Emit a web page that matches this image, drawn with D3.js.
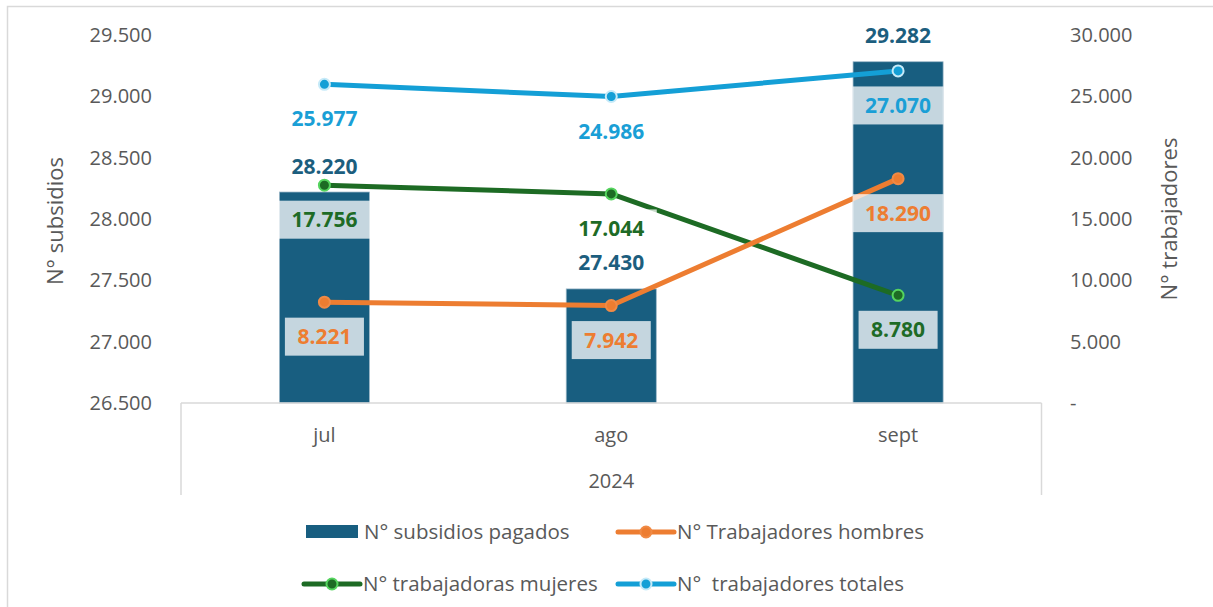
<!DOCTYPE html>
<html>
<head>
<meta charset="utf-8">
<script src="https://cdn.jsdelivr.net/npm/d3@7"></script>
<style>
  body { margin: 0; background: #fff; }
  svg text { font-family: "Open Sans", sans-serif; }
</style>
</head>
<body>
<svg id="chart" width="1213" height="607"></svg>
<script>
// data
const months = ["jul", "ago", "sept"];
const yearLabel = "2024";
const subsidios = [28220, 27430, 29282];
const hombres = [8221, 7942, 18290];
const mujeres = [17756, 17044, 8780];
const totales = [25977, 24986, 27070];
const leftTicks = [26500, 27000, 27500, 28000, 28500, 29000, 29500];
const rightTicks = [0, 5000, 10000, 15000, 20000, 25000, 30000];
const legendNames = ["N° subsidios pagados", "N° Trabajadores hombres", "N° trabajadoras mujeres", "N°  trabajadores totales"];

const barColor = "#185E80";
const orange = "#ED7D31";
const green = "#1D6B24";
const blue = "#149FD6";
const gray = "#595959";
const border = "#D9D9D9";

const loc = d3.formatLocale({ decimal: ",", thousands: ".", grouping: [3], currency: ["$", ""] });
const fmt = loc.format(",.0f");

const svg = d3.select("#chart");

// outer chart frame
svg.append("rect")
  .attr("x", 7.5).attr("y", 6.5)
  .attr("width", 1230).attr("height", 640)
  .attr("fill", "none").attr("stroke", border).attr("stroke-width", 1.5);

const plotLeft = 181, plotRight = 1041.5, plotTop = 35, plotBottom = 403;

const x = d3.scaleBand().domain(months).range([plotLeft, plotRight]).padding(0);
const yL = d3.scaleLinear().domain([26500, 29500]).range([plotBottom, plotTop]);
const yR = d3.scaleLinear().domain([0, 30000]).range([plotBottom, plotTop]);
const barW = x.bandwidth() * 0.314;
const cx = (m) => x(m) + x.bandwidth() / 2;

// left axis
const axL = svg.append("g")
  .attr("transform", `translate(${plotLeft},0)`)
  .call(d3.axisLeft(yL).tickValues(leftTicks).tickSize(0).tickPadding(29).tickFormat(fmt));
axL.select(".domain").remove();
axL.selectAll("text").style("font-size", "20px").attr("fill", gray);

// right axis
const axR = svg.append("g")
  .attr("transform", `translate(${plotRight},0)`)
  .call(d3.axisRight(yR).tickValues(rightTicks).tickSize(0).tickPadding(28.5)
    .tickFormat(d => d === 0 ? "-" : fmt(d)));
axR.select(".domain").remove();
axR.selectAll("text").style("font-size", "20px").attr("fill", gray);

// axis titles
svg.append("text")
  .attr("transform", `translate(63,${(plotTop + plotBottom) / 2 + 2}) rotate(-90)`)
  .attr("text-anchor", "middle")
  .style("font-size", "22px").attr("fill", gray)
  .text("N° subsidios");
svg.append("text")
  .attr("transform", `translate(1177,${(plotTop + plotBottom) / 2}) rotate(-90)`)
  .attr("text-anchor", "middle")
  .style("font-size", "22px").attr("fill", gray)
  .text("N° trabajadores");

// bars
svg.selectAll(".bar")
  .data(months)
  .enter()
  .append("rect")
  .attr("x", (d) => cx(d) - barW / 2)
  .attr("y", (d, i) => yL(subsidios[i]))
  .attr("width", barW)
  .attr("height", (d, i) => plotBottom - yL(subsidios[i]))
  .attr("fill", barColor)
  .attr("stroke", "#9DB8C8")
  .attr("stroke-width", 0.75);

// category axis with the year level
const catAxis = svg.append("g").attr("stroke", border).attr("stroke-width", 1.5);
catAxis.append("line").attr("x1", plotLeft).attr("x2", plotRight).attr("y1", plotBottom).attr("y2", plotBottom);
catAxis.append("line").attr("x1", plotLeft).attr("x2", plotLeft).attr("y1", plotBottom).attr("y2", 495);
catAxis.append("line").attr("x1", plotRight).attr("x2", plotRight).attr("y1", plotBottom).attr("y2", 495);

svg.selectAll(".month")
  .data(months)
  .enter()
  .append("text")
  .attr("x", (d) => cx(d))
  .attr("y", 435)
  .attr("dy", "0.36em")
  .attr("text-anchor", "middle")
  .style("font-size", "20px").attr("fill", gray)
  .text((d) => d);
svg.append("text")
  .attr("x", (plotLeft + plotRight) / 2)
  .attr("y", 481)
  .attr("dy", "0.36em")
  .attr("text-anchor", "middle")
  .style("font-size", "20px").attr("fill", gray)
  .text(yearLabel);

// lines
const series = [
  { values: mujeres, color: green, marker: green, ring: "#55D45E", text: "#1E6B26" },
  { values: hombres, color: orange, marker: orange, ring: "#F08A45", text: orange },
  { values: totales, color: blue, marker: blue, ring: "#C6EAF8", text: "#1A9FD6" }
];

const line = d3.line()
  .x((d, i) => cx(months[i]))
  .y((d) => yR(d));

series.forEach((s) => {
  svg.append("path")
    .datum(s.values)
    .attr("d", line)
    .attr("fill", "none")
    .attr("stroke", s.color)
    .attr("stroke-width", 5)
    .attr("stroke-linejoin", "round")
    .attr("stroke-linecap", "round");
  svg.selectAll(null)
    .data(s.values)
    .enter()
    .append("circle")
    .attr("cx", (d, i) => cx(months[i]))
    .attr("cy", (d) => yR(d))
    .attr("r", 5.5)
    .attr("fill", s.marker)
    .attr("stroke", s.ring)
    .attr("stroke-width", 2);
});

// bar value labels (outside end)
svg.selectAll(".barlabel")
  .data(subsidios)
  .enter()
  .append("text")
  .attr("x", (d, i) => cx(months[i]))
  .attr("y", (d) => yL(d) - 26)
  .attr("dy", "0.36em")
  .attr("text-anchor", "middle")
  .style("font-size", "21px").style("font-weight", "bold")
  .attr("fill", "#1C5E7E")
  .text((d) => fmt(d));

// line value labels (below) with translucent boxes
series.forEach((s) => {
  s.values.forEach((v, i) => {
    const g = svg.append("g");
    const box = g.append("rect");
    const t = g.append("text")
      .attr("x", cx(months[i]))
      .attr("y", yR(v) + 34.5)
      .attr("dy", "0.36em")
      .attr("text-anchor", "middle")
      .style("font-size", "21px").style("font-weight", "bold")
      .attr("fill", s.text)
      .text(fmt(v));
    const w = t.node().getComputedTextLength() + 25;
    box.attr("x", cx(months[i]) - w / 2)
      .attr("y", yR(v) + 34.5 - 19)
      .attr("width", w)
      .attr("height", 38)
      .attr("fill", "#fff")
      .attr("fill-opacity", 0.75);
  });
});

// legend
const legend = svg.append("g").style("font-size", "20.5px");
const legendItems = [
  { name: legendNames[0], type: "bar", color: barColor, x: 306, y: 532 },
  { name: legendNames[1], type: "line", color: orange, ring: "#F08A45", x: 618, y: 532 },
  { name: legendNames[2], type: "line", color: green, ring: "#55D45E", x: 304, y: 584 },
  { name: legendNames[3], type: "line", color: blue, ring: "#C6EAF8", x: 618, y: 584 }
];
legendItems.forEach((d) => {
  if (d.type === "bar") {
    legend.append("rect")
      .attr("x", d.x).attr("y", d.y - 7)
      .attr("width", 52).attr("height", 13)
      .attr("fill", d.color);
  } else {
    legend.append("line")
      .attr("x1", d.x).attr("x2", d.x + 56)
      .attr("y1", d.y).attr("y2", d.y)
      .attr("stroke", d.color).attr("stroke-width", 5)
      .attr("stroke-linecap", "round");
    legend.append("circle")
      .attr("cx", d.x + 28).attr("cy", d.y).attr("r", 5.5)
      .attr("fill", d.color).attr("stroke", d.ring).attr("stroke-width", 2);
  }
  legend.append("text")
    .attr("x", d.type === "bar" ? d.x + 58 : d.x + 59)
    .attr("y", d.y)
    .attr("dy", "0.36em")
    .attr("fill", gray)
    .style("white-space", "pre")
    .text(d.name);
});
</script>
</body>
</html>
